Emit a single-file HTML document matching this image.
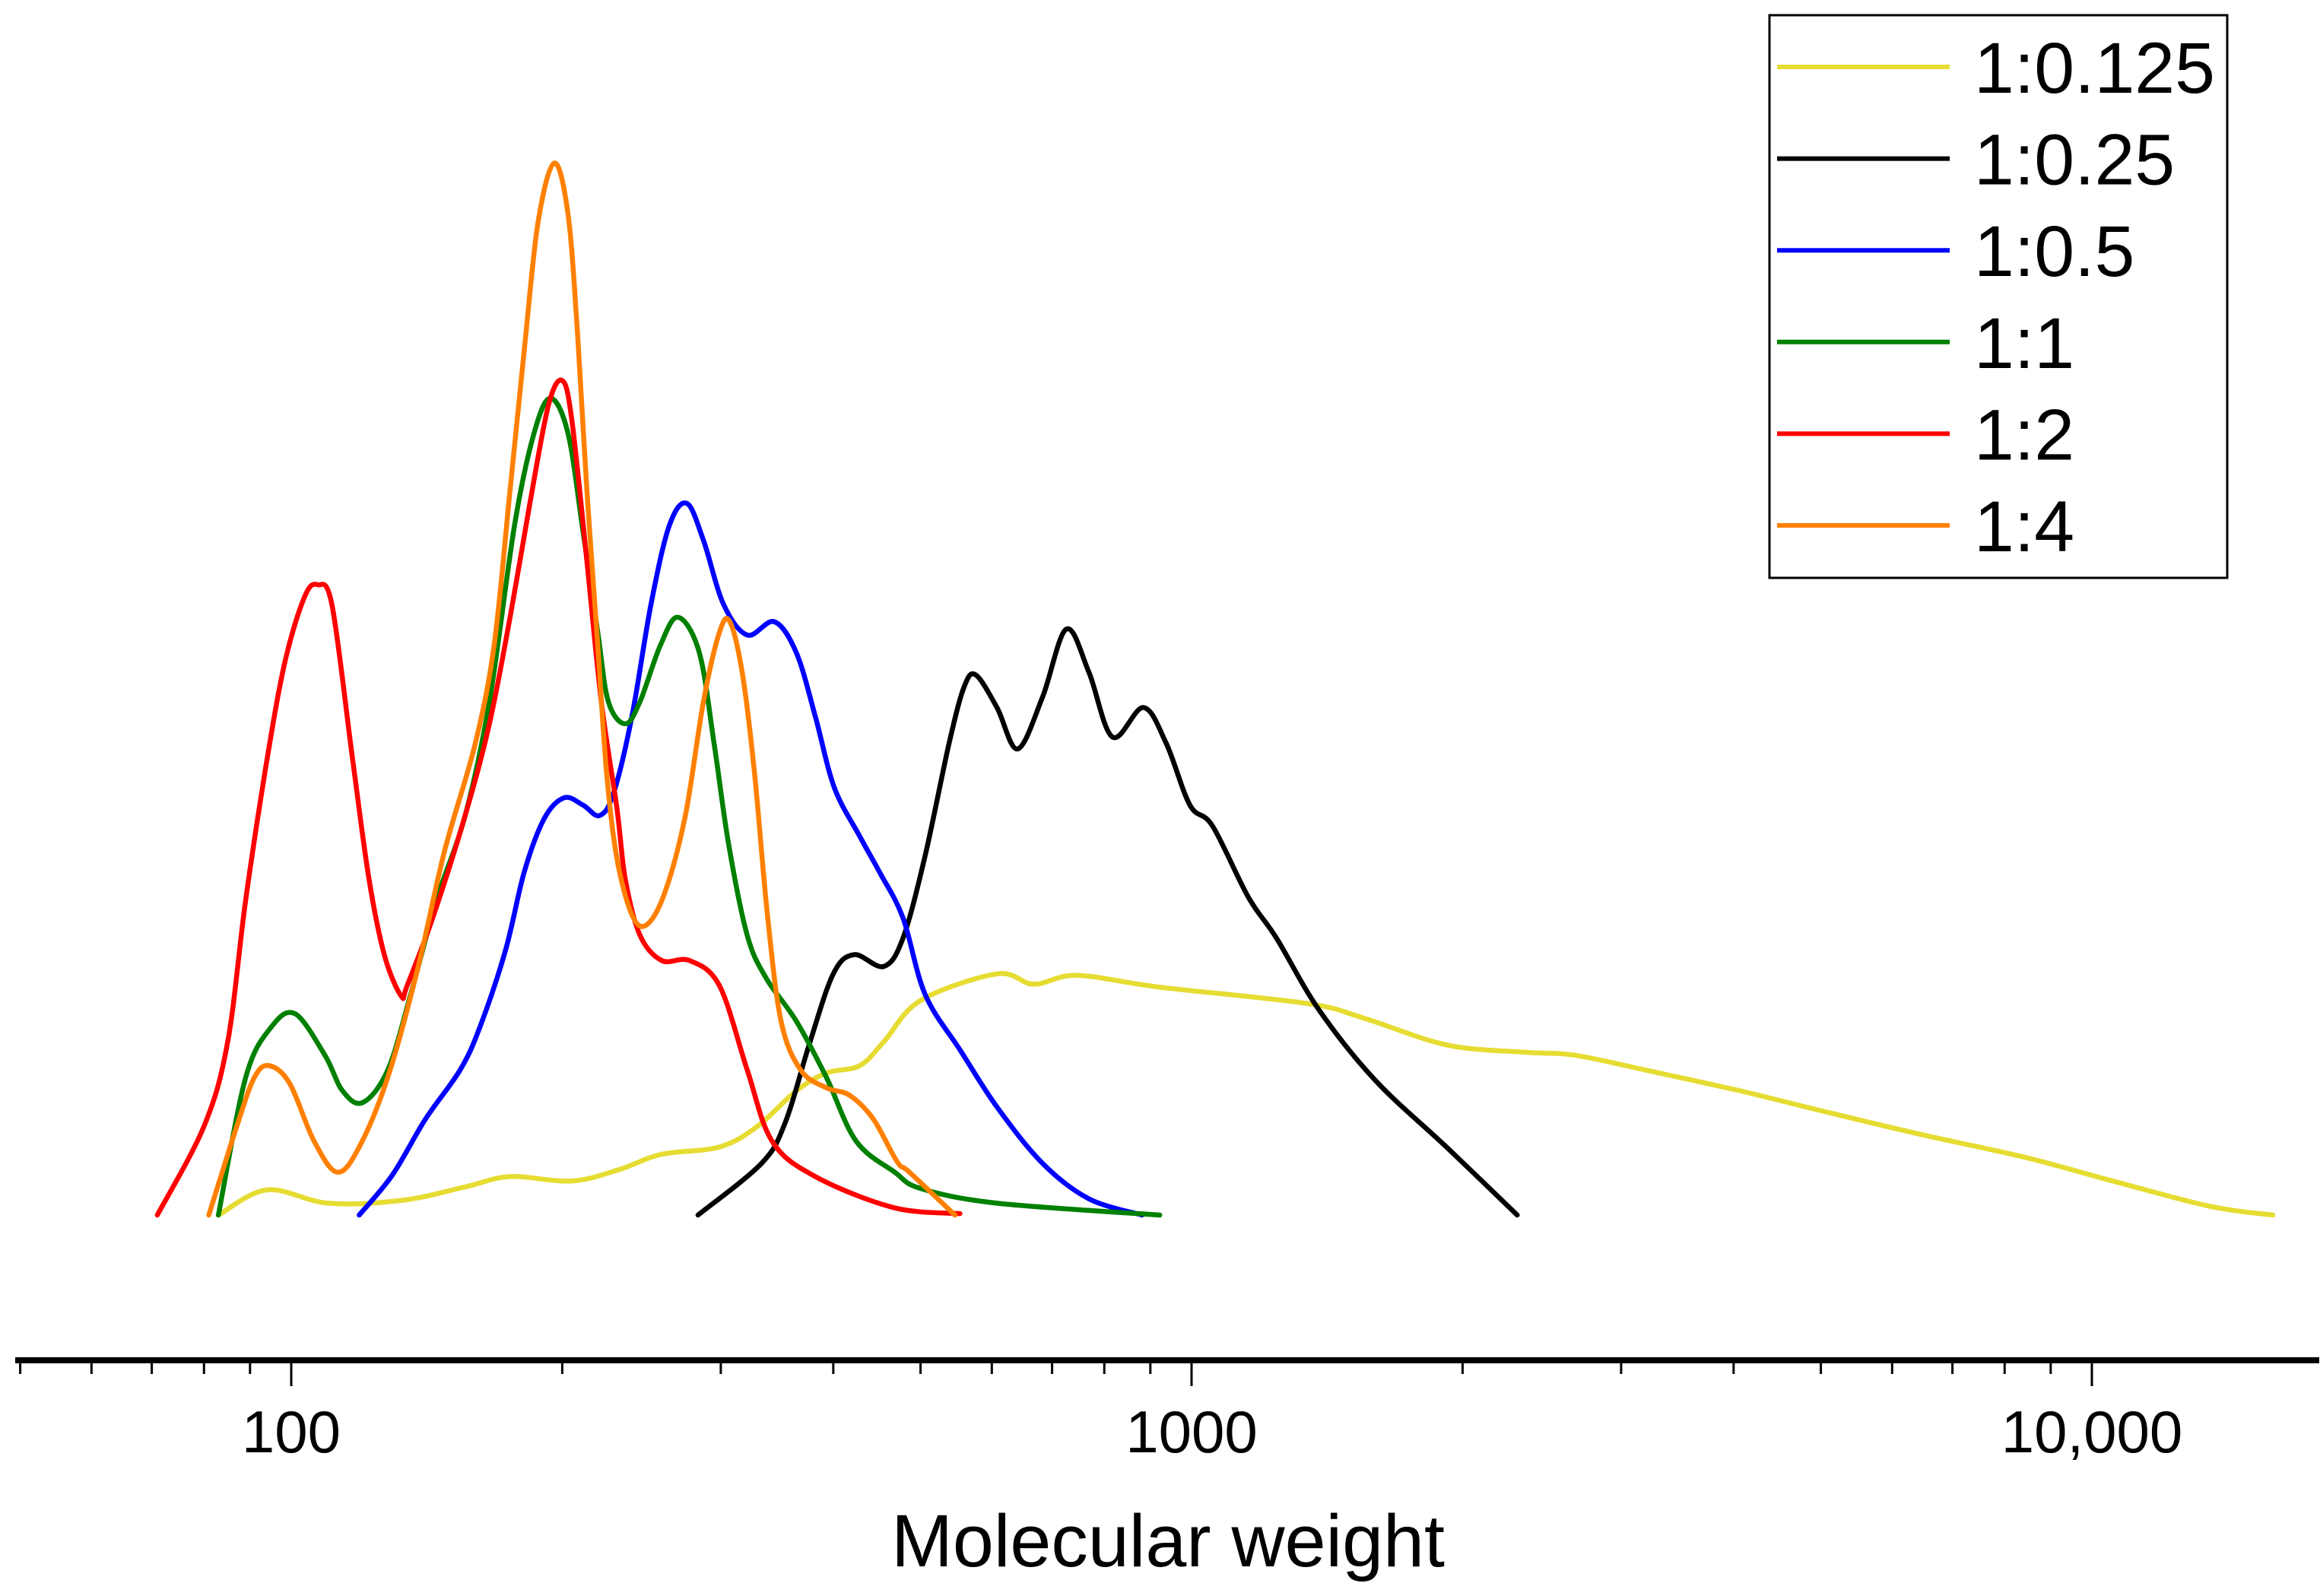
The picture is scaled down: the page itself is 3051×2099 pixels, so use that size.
<!DOCTYPE html>
<html>
<head>
<meta charset="utf-8">
<style>
  html,body{margin:0;padding:0;background:#fff;}
  svg{display:block;}
  text{font-family:"Liberation Sans", Arial, sans-serif;}
</style>
</head>
<body>
<svg id="chart" width="3051" height="2099" viewBox="0 0 3051 2099" xmlns="http://www.w3.org/2000/svg">
  <rect x="0" y="0" width="3051" height="2099" fill="#fff"/>
  <g id="series"></g>
  <g id="axis"></g>
  <text x="1536" y="2060" font-size="97" text-anchor="middle">Molecular weight</text>
  <g id="legend">
    <rect x="2327" y="20" width="602" height="740" fill="#fff" stroke="#000" stroke-width="3"/>
  </g>
</svg>
<script>
// ---- data (molecular weight, relative intensity) ----
const series1_mw = [83,94,110,133,156,175,205,232,257.5,299,329.5,364,393,428,455,500,608,668,746,922,1343,1556,1919,2343,2666,3248,4063,5124,6510,8430,10550,13500,15890];
const series1_val = [0,17,8,10,19,26,23,31,41,46,60,84,96,101,117,145,163,156,162,154,143,133,115,110,108,97,84,69,54,39,23,6,0];

const series2_mw = [283,333,354,376,400,422,455,478,506,538,559,576,608,641,683,726,769,817,884,937,996,1055,1156,1243,1384,1600,1919,2300];
const series2_val = [0,35,63,115,163,176,168,187,243,319,357,365,343,315,350,396,367,323,343,319,277,263,215,187,139,91,46,0];

const series3_mw = [119,129.5,141,154,162,173,181.5,191,201,211,220,228,239,251,263,275,287,302,321,344,364,382,401,428,450,478,506,554,608,683,769,881];
const series3_val = [0,27,65,98,127,179,232,268,282,277,270,285,337,413,466,481,456,413,392,401,380,337,289,256,232,201,149,111,73,35,11,0];

const series4_mw = [83,89,95,101,109,114,120,128,136,145,156,166,177,186,194,203,211,219,225,235,244,257,269,284,295,306,321,337,364,393,424,468,500,608,922];
const series4_val = [0,93,127,136,108,84,76,98,151,213,270,347,466,528,552,528,461,394,347,332,347,385,404,380,318,251,189,160,131,93,50,29,18,8,0];

const series5_mw = [71,80,85,89,94,98.5,103.5,107,111,117,122,127,132.5,134.5,144,156,166,175,184,193,200,205,213,221,230,235,244,258,277,299,321,342,382,467,553];
const series5_val = [0,60,117,213,308,375,418,426,412,308,227,175,148,155,203,270,332,404,480,547,564,537,442,347,275,227,189,172,172,155,98,50,26,5,1];

const series6_mw = [81,87,91,94.5,99.6,106,112.5,119,128,138,148,160,168,175,181.5,188,196,203,208,213,219,224,230,239,248,260,274,287,299,307,317,327,338,350,368,393,417,443,471,486,546];
const series6_val = [0,60,93,101,89,50,29,46,93,165,246,318,385,490,585,671,711,676,595,490,385,299,241,203,196,218,270,347,394,401,366,299,203,131,98,86,81,65,36,29,0];

const seriesNames = ["1:0.125","1:0.25","1:0.5","1:1","1:2","1:4"];
const seriesColors = ["#e6dc32","#000000","#0000ff","#008000","#ff0000","#ff8000"];
const majorTicks = [100,1000,10000];
const majorTickLabels = ["100","1000","10,000"];
const minorTicks = [50,60,70,80,90,200,300,400,500,600,700,800,900,2000,3000,4000,5000,6000,7000,8000,9000];

// ---- scales ----
function xScale(mw){ return 383 + 1184*Math.log10(mw/100); }
function yScale(v){ return 1598 - v*1.946; }

const NS = "http://www.w3.org/2000/svg";
function mk(tag, attrs, parent){
  const e = document.createElementNS(NS, tag);
  for (const k in attrs) e.setAttribute(k, attrs[k]);
  parent.appendChild(e);
  return e;
}
function smoothPath(pts){
  let d = "M" + pts[0][0].toFixed(1) + "," + pts[0][1].toFixed(1);
  for (let i=0;i<pts.length-1;i++){
    const p0 = pts[i>0?i-1:i], p1 = pts[i], p2 = pts[i+1], p3 = pts[i+2<pts.length?i+2:i+1];
    const t = 6;
    const c1x = p1[0] + (p2[0]-p0[0])/t, c1y = p1[1] + (p2[1]-p0[1])/t;
    const c2x = p2[0] - (p3[0]-p1[0])/t, c2y = p2[1] - (p3[1]-p1[1])/t;
    d += " C" + c1x.toFixed(1)+","+c1y.toFixed(1)+" "+c2x.toFixed(1)+","+c2y.toFixed(1)+" "+p2[0].toFixed(1)+","+p2[1].toFixed(1);
  }
  return d;
}

// ---- series ----
const sg = document.getElementById("series");
const allMw = [series1_mw,series2_mw,series3_mw,series4_mw,series5_mw,series6_mw];
const allVal = [series1_val,series2_val,series3_val,series4_val,series5_val,series6_val];
const lineNames = ["line-1-0-125","line-1-0-25","line-1-0-5","line-1-1","line-1-2","line-1-4"];
for (let s=0;s<allMw.length;s++){
  const pts = allMw[s].map((m,i)=>[xScale(m), yScale(allVal[s][i])]);
  const p = mk("path",{d:smoothPath(pts),fill:"none",stroke:seriesColors[s],"stroke-width":6.5,"stroke-linejoin":"round","stroke-linecap":"round"},sg);
  
  
}

// ---- axis ----
const ag = document.getElementById("axis");
const axLine = mk("line",{x1:20,y1:1789,x2:3050,y2:1789,stroke:"#000","stroke-width":8},ag);


minorTicks.forEach(m=>{
  const x = xScale(m);
  const t = mk("line",{x1:x,y1:1789,x2:x,y2:1807,stroke:"#000","stroke-width":3},ag);
  
  
});
majorTicks.forEach((m,i)=>{
  const x = xScale(m);
  const t = mk("line",{x1:x,y1:1789,x2:x,y2:1823,stroke:"#000","stroke-width":3},ag);
  
  
  const lb = mk("text",{x:x,y:1910,"font-size":78,"text-anchor":"middle"},ag);
  lb.textContent = majorTickLabels[i];
  
  
});

// ---- legend ----
const lg = document.getElementById("legend");
for (let s=0;s<seriesNames.length;s++){
  const yb = 122 + s*120.6;
  const ly = yb - 34;
  const sw = mk("line",{x1:2337,y1:ly,x2:2564,y2:ly,stroke:seriesColors[s],"stroke-width":6},lg);
  
  
  const tx = mk("text",{x:2596,y:yb,"font-size":95},lg);
  tx.textContent = seriesNames[s];
  
  
}
</script>
</body>
</html>
